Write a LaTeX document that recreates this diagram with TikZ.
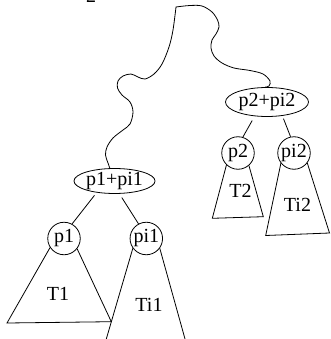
\documentclass[tikz,border=0pt]{standalone}
\usepackage{fontspec}
\setmainfont{Liberation Serif}
\usetikzlibrary{shapes.geometric}
\begin{document}
\begin{tikzpicture}[x=1pt,y=-1pt, line width=0.8pt,
  every node/.style={font=\fontsize{20}{24}\selectfont, inner sep=0pt},
  ring/.style={draw, circle, minimum size=32.5pt},
  oval/.style={draw, ellipse, inner sep=0pt},
  wavy/.style={smooth, tension=0.55}]
\clip (0,0) rectangle (330,339);
% fragment of a cut-off label at the top edge
\node[anchor=base] (frag) at (91,2.5) {2};
% ellipses
\node[oval, minimum width=81pt, minimum height=25pt] (e1) at (114.5,181) {p1+pi1};
\node[oval, minimum width=83pt, minimum height=29pt] (e2) at (267,102) {p2+pi2};
% circles
\node[ring] (p1) at (64,238.5) {p1};
\node[ring] (pi1) at (146.3,238.5) {pi1};
\node[ring] (p2) at (238,153) {p2};
\node[ring] (pi2) at (294,153) {pi2};
% subtree labels
\node (T1) at (58,294) {T1};
\node (Ti1) at (149,305) {Ti1};
\node (T2) at (240.5,190.7) {T2};
\node (Ti2) at (297.5,204.7) {Ti2};
% triangle corners
\coordinate (t1a) at (7,323);
\coordinate (t1b) at (111.3,321.7);
\coordinate (ti1a) at (106,340);
\coordinate (ti1b) at (185.3,340);
\coordinate (t2a) at (212.3,218.3);
\coordinate (t2b) at (263.3,216.7);
\coordinate (ti2a) at (265.7,235.5);
\coordinate (ti2b) at (329.5,233);
\coordinate (top) at (176,7);
% wavy path
\draw plot[wavy] coordinates {(e1.110) (108,163) (105.5,155) (107,147) (113,138) (123,130) (130,124) (133,112) (130,102) (122,95) (117.5,88) (118,81) (123,76) (131,74) (138,77) (145,79) (154,74) (162,64) (169,47) (173,30) (top)}
  -- plot[wavy] coordinates {(top) (190,5.5) (202,6) (212,12) (217.5,20) (219,27) (216,34) (212,40) (211,48) (214,56) (222,63) (234,68) (250,70.5) (263,74) (270,81) (269,86) (e2.97)};
% tree edges
\draw[shorten <=3.5pt] (e1.213) -- (p1.61);
\draw[shorten <=4.5pt] (e1.291) -- (pi1.118);
\draw[shorten <=5pt] (e2.229) -- (p2.73);
\draw[shorten <=3pt] (e2.318) -- (pi2.102);
% subtrees
\draw (p1.213) -- (t1a) -- (t1b) -- (p1.322);
\draw (ti1a) -- (pi1.216);
\draw (pi1.324) -- (ti1b);
\draw (p2.226) -- (t2a) -- (t2b) -- (p2.311);
\draw (pi2.218) -- (ti2a) -- (ti2b) -- (pi2.323);
\end{tikzpicture}
\end{document}
